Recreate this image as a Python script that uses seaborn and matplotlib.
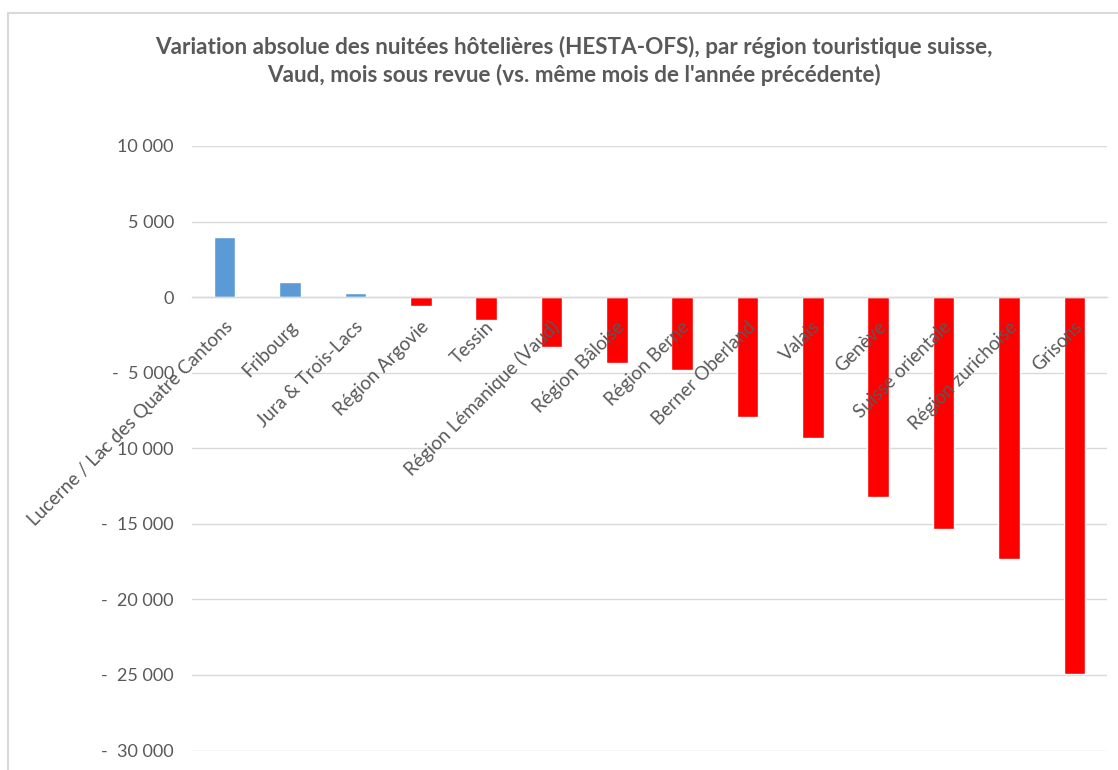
import pandas as pd
import matplotlib
matplotlib.use("Agg")
import matplotlib.pyplot as plt
import matplotlib.transforms as mtransforms
from matplotlib.lines import Line2D
from matplotlib.ticker import FuncFormatter, MultipleLocator
import seaborn as sns

# Données (variation absolue des nuitées)
regions = [
    "Lucerne / Lac des Quatre Cantons", "Fribourg", "Jura & Trois-Lacs",
    "Région Argovie", "Tessin", "Région Lémanique (Vaud)", "Région Bâloise",
    "Région Berne", "Berner Oberland", "Valais", "Genève", "Suisse orientale",
    "Région zurichoise", "Grisons",
]
variations = [3950, 970, 250, -620, -1500, -3300, -4350,
              -4800, -7900, -9300, -13250, -15350, -17300, -24950]

title = ("Variation absolue des nuitées hôtelières (HESTA-OFS), par région touristique suisse,\n"
         "Vaud, mois sous revue (vs. même mois de l'année précédente)")

BLUE = "#5B9BD5"
RED = "#FF0000"
GREY_TXT = "#595959"
GREY_LINE = "#D9D9D9"

df = pd.DataFrame({"region": regions, "variation": variations})
df["signe"] = ["pos" if v >= 0 else "neg" for v in df["variation"]]

sns.set_style("white")
plt.rcParams["font.family"] = ["Lato", "DejaVu Sans"]

fig = plt.figure(figsize=(11.18, 7.7), dpi=100)
ax = fig.add_axes([192 / 1118, 1 - 750.5 / 770, (1107 - 192) / 1118, (750.5 - 146) / 770])

sns.barplot(data=df, x="region", y="variation", hue="signe", order=regions,
            palette={"pos": BLUE, "neg": RED}, dodge=False, legend=False,
            width=0.33, saturation=1, ax=ax)

ax.set_ylim(-30000, 10000)
ax.set_xlim(-0.5, len(regions) - 0.5)
ax.yaxis.set_major_locator(MultipleLocator(5000))


def fmt(v, pos):
    s = f"{abs(v):,.0f}".replace(",", " ")
    return ("-  " + s) if v < 0 else s


ax.yaxis.set_major_formatter(FuncFormatter(fmt))
ax.yaxis.grid(True, color=GREY_LINE, linewidth=1)
ax.set_axisbelow(True)

for side in ["top", "right", "left"]:
    ax.spines[side].set_visible(False)
ax.spines["bottom"].set_position(("data", 0))
ax.spines["bottom"].set_color(GREY_LINE)
ax.spines["bottom"].set_linewidth(1)
ax.spines["bottom"].set_zorder(3)

ax.tick_params(axis="both", length=0, colors=GREY_TXT)
ax.tick_params(axis="y", pad=13, labelsize=13)
ax.set_xticks(range(len(regions)))
ax.set_xticklabels([])
ax.set_xlabel("")
ax.set_ylabel("")

# étiquettes de catégories posées sur l'axe zéro, au-dessus des barres
offset = mtransforms.ScaledTranslation(5 / 100, -27 / 100, fig.dpi_scale_trans)
for i, reg in enumerate(regions):
    ax.text(i, 0, reg, rotation=45, ha="right", va="center",
            rotation_mode="anchor", color=GREY_TXT, fontsize=13.5,
            transform=ax.transData + offset, zorder=5)

fig.text(574 / 1118, 1 - 61 / 770, title, ha="center", va="center",
         fontsize=16.2, fontweight="bold", color=GREY_TXT, linespacing=1.3)

# cadre du graphique (type Excel)
fig.add_artist(Line2D([8 / 1118, 8 / 1118], [0, 1 - 13 / 770],
                      transform=fig.transFigure, color=GREY_LINE, linewidth=1.5))
fig.add_artist(Line2D([8 / 1118, 1], [1 - 13 / 770, 1 - 13 / 770],
                      transform=fig.transFigure, color=GREY_LINE, linewidth=1.5))

fig.savefig("out.png", dpi=100)
plt.close(fig)
